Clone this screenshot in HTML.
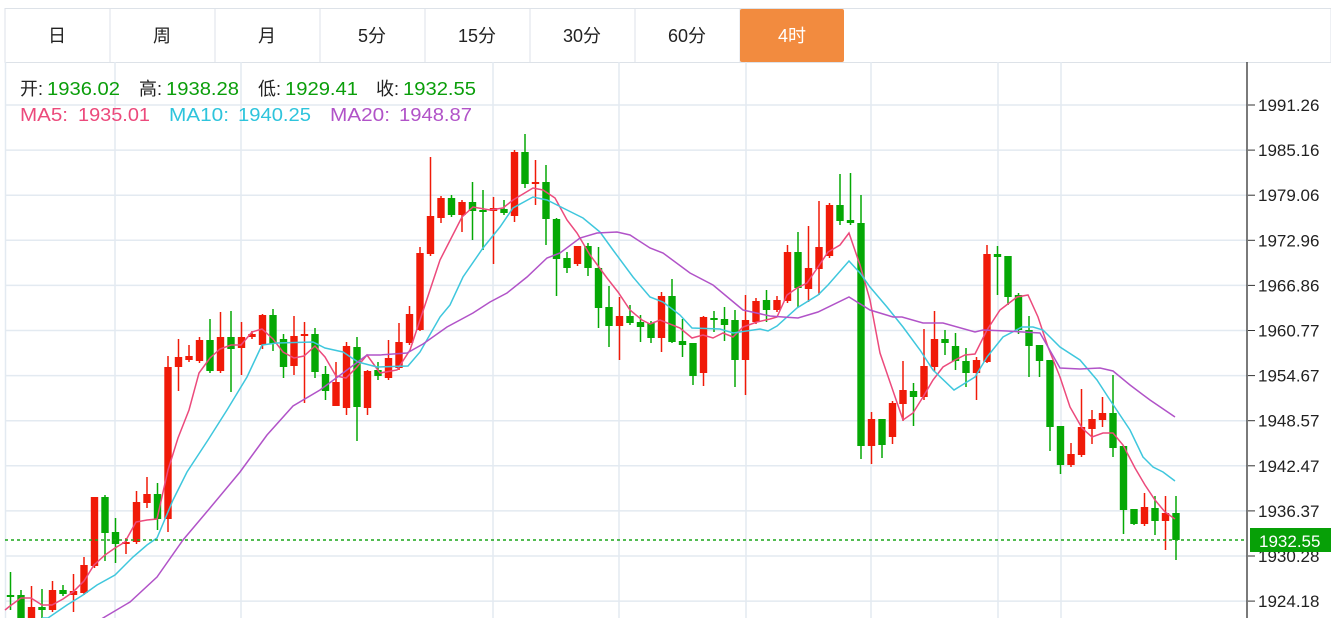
<!DOCTYPE html>
<html><head><meta charset="utf-8"><style>
body{margin:0;background:#fff;width:1331px;height:618px;overflow:hidden;font-family:"Liberation Sans","Noto Sans CJK SC",sans-serif;}
svg{position:absolute;left:0;top:0}
</style></head><body>
<svg id="s" width="1331" height="618" xmlns="http://www.w3.org/2000/svg"></svg>
<script>
const s=document.getElementById('s');let h='';
h+='<rect x="5" y="8.5" width="1326" height="54" fill="#fff" stroke="#dde2e8"/>';
const tabs=['日','周','月','5分','15分','30分','60分','4时'];
tabs.forEach((t,i)=>{const x=5+i*105;
 if(i==7)h+=`<rect x="${x}" y="9" width="104" height="53" rx="2" fill="#f28b3f"/>`;
 else h+=`<line x1="${x+105}" y1="9" x2="${x+105}" y2="62" stroke="#dde2e8"/>`;
 h+=`<text x="${x+52}" y="42" font-size="18" text-anchor="middle" fill="${i==7?'#fff':'#222'}">${t}</text>`;});
[115,241,493,619,746,871,998,1061].forEach(x=>h+=`<line x1="${x}" y1="62" x2="${x}" y2="618" stroke="#e3eaf1" stroke-width="1.5"/>`);
h+='<line x1="5.5" y1="62" x2="5.5" y2="618" stroke="#e3eaf1" stroke-width="1.5"/>';
const lab=['1991.26','1985.16','1979.06','1972.96','1966.86','1960.77','1954.67','1948.57','1942.47','1936.37','1930.28','1924.18'];
lab.forEach((l,i)=>{const y=105+i*45.1;
 h+=`<line x1="5" y1="${y}" x2="1247" y2="${y}" stroke="#e3eaf1" stroke-width="1.5"/>`;
 h+=`<line x1="1248" y1="${y}" x2="1255" y2="${y}" stroke="#333"/>`;
 h+=`<text x="1258" y="${y+6}" font-size="17" fill="#222">${l}</text>`;});
h+='<line x1="1247" y1="62" x2="1247" y2="618" stroke="#222" stroke-width="1.2"/>';
const C=[[595,597,572,610,'g'],[595,618,590,618,'g'],[607,618,586,618,'r'],[607,610,589,618,'g'],[590,610,581,612,'r'],[590,594,585,596,'g'],[591,595,574,612,'r'],[565,593,557,595,'r'],[497,566,497,568,'r'],[497,533,495,561,'g'],[532,544,518,563,'g'],[542,544,538,554,'r'],[502,542,491,544,'r'],[494,503,477,508,'r'],[494,519,483,530,'g'],[367,519,356,532,'r'],[357,367,339,391,'r'],[356,360,345,362,'r'],[340,361,337,363,'r'],[340,371,319,373,'g'],[337,371,312,373,'r'],[337,349,311,392,'g'],[337,348,322,375,'r'],[334,337,331,339,'r'],[315,345,314,349,'r'],[315,344,309,351,'g'],[339,367,334,378,'g'],[336,366,316,375,'r'],[334,336,322,403,'r'],[334,372,328,378,'g'],[374,391,366,400,'g'],[382,406,362,402,'r'],[346,408,342,415,'r'],[347,407,337,441,'g'],[371,408,370,415,'r'],[370,376,362,380,'g'],[358,378,340,380,'r'],[342,368,323,370,'r'],[314,343,306,345,'r'],[253,330,247,331,'r'],[216,254,157,256,'r'],[198,218,196,223,'r'],[198,215,195,217,'g'],[202,215,200,232,'r'],[202,211,182,240,'g'],[210,212,190,250,'g'],[208,211,197,264,'r'],[209,213,200,215,'g'],[152,216,150,222,'r'],[152,184,134,188,'g'],[182,184,160,205,'r'],[182,219,165,245,'g'],[219,259,218,296,'g'],[258,268,252,273,'g'],[246,264,246,266,'r'],[246,268,243,276,'g'],[268,308,247,328,'g'],[307,326,286,347,'g'],[316,326,297,360,'r'],[316,323,305,325,'g'],[322,327,315,342,'g'],[323,338,321,343,'g'],[296,338,292,352,'r'],[296,342,279,343,'g'],[341,345,319,357,'g'],[343,376,343,385,'g'],[317,373,316,386,'r'],[318,320,311,332,'g'],[319,325,307,341,'g'],[320,360,310,387,'g'],[320,360,295,395,'r'],[301,322,298,324,'r'],[300,310,290,322,'g'],[300,310,296,312,'r'],[252,301,245,303,'r'],[252,288,232,307,'g'],[268,289,226,302,'r'],[247,269,201,295,'r'],[205,256,203,258,'r'],[205,221,174,225,'g'],[220,223,173,225,'g'],[223,446,195,459,'g'],[419,446,412,464,'r'],[419,445,419,458,'g'],[403,437,401,444,'r'],[390,404,361,421,'r'],[391,397,383,426,'g'],[366,397,329,400,'r'],[339,367,311,372,'r'],[339,343,330,355,'g'],[346,361,333,370,'g'],[361,373,348,387,'g'],[360,373,357,400,'r'],[254,362,245,363,'r'],[254,257,246,295,'g'],[256,297,257,305,'g'],[295,330,293,334,'g'],[330,346,316,377,'g'],[345,361,345,377,'g'],[360,427,360,451,'g'],[426,465,426,474,'g'],[454,465,443,467,'r'],[427,455,389,457,'r'],[419,429,410,444,'r'],[413,420,397,427,'r'],[413,448,375,457,'g'],[446,510,446,534,'g'],[509,524,509,525,'g'],[507,524,493,526,'r'],[508,521,496,535,'g'],[513,521,496,550,'r'],[513,540,496,560,'g']];
C.forEach((c,i)=>{const x=10.5+i*10.5;const col=c[4]=='r'?'#f01a08':'#05a805';
 h+=`<line x1="${x}" y1="${c[2]}" x2="${x}" y2="${c[3]}" stroke="${col}" stroke-width="1.5"/>`;
 h+=`<rect x="${x-3.7}" y="${c[0]}" width="7.4" height="${Math.max(2,c[1]-c[0])}" fill="${col}"/>`;});
const pl=(p,c)=>h+=`<polyline points="${p}" fill="none" stroke="${c}" stroke-width="1.5"/>`;
pl("5,610 10,606 21,598 31,598 42,605 52,605 63,599 73,592 84,581 94,565 105,555 115,548 125,542 136,522 147,520 157,519 168,470 178,438 189,410 199,373 210,358 220,349 231,345 241,345 252,332 262,329 273,339 283,352 294,358 304,356 315,346 325,357 336,376 346,378 357,367 367,355 380,373 397,370 410,350 430,290 440,260 462,217 473,207 490,210 503,208 513,200 533,188 543,190 555,198 567,220 577,233 590,255 607,278 618,292 630,310 642,320 650,324 660,320 680,328 692,338 703,335 713,338 723,333 733,337 743,327 757,322 770,319 777,317 787,295 797,288 807,283 818,267 828,252 840,245 849,233 860,265 870,300 880,353 903,420 913,413 923,397 933,380 943,367 955,360 965,355 975,354 987,330 1000,310 1017,297 1028,295 1038,317 1048,347 1060,377 1070,407 1082,428 1092,437 1103,433 1113,433 1123,445 1135,468 1145,485 1155,500 1165,512 1175,519","#ec4a7c");
pl("42,618 48,618 67,605 83,595 97,585 115,575 133,557 147,545 157,538 173,500 187,472 208,440 227,410 247,377 262,345 277,343 313,342 325,348 343,352 358,362 377,367 408,366 420,352 440,317 450,305 463,277 483,248 500,227 513,208 533,197 547,200 567,210 583,218 600,232 613,250 633,277 650,297 663,302 680,315 692,328 720,329 733,333 760,329 768,331 777,326 797,308 818,295 828,285 849,261 860,273 870,287 887,307 903,327 920,350 933,370 954,390 975,377 987,357 1003,337 1022,327 1033,327 1043,330 1060,347 1080,360 1097,380 1110,400 1130,430 1143,457 1153,467 1163,472 1175,481","#3fc7dd");
pl("100,620 103,618 130,602 157,577 183,540 210,508 240,472 267,435 293,406 320,390 347,370 367,355 380,355 407,353 423,344 447,327 473,313 490,302 507,293 527,277 547,258 560,253 580,238 597,233 617,232 630,235 650,248 663,253 690,273 713,285 743,310 770,316 783,317 798,318 818,312 849,297 870,310 893,317 902,317 923,323 943,323 975,332 983,330 1007,331 1023,332 1040,333 1060,368 1080,369 1100,368 1113,371 1130,385 1150,400 1175,417","#b153c8");
h+='<line x1="5" y1="540" x2="1247" y2="540" stroke="#1aa51a" stroke-width="1.5" stroke-dasharray="3,3"/>';
h+='<rect x="1250" y="528" width="81" height="24" fill="#07a007"/><text x="1259" y="547" font-size="17" fill="#fff">1932.55</text>';
const G='#0a9e0a';
const T=(x,y,t,c,w)=>h+=`<text x="${x}" y="${y}" font-size="18" fill="${c}"${w?` textLength="${w}" lengthAdjust="spacingAndGlyphs"`:''}>${t}</text>`;
T(20,95,'开:','#222');T(47,95,'1936.02',G,73);
T(139,95,'高:','#222');T(166,95,'1938.28',G,73);
T(258,95,'低:','#222');T(285,95,'1929.41',G,73);
T(376,95,'收:','#222');T(403,95,'1932.55',G,73);
T(20,121,'MA5:','#ec4a7c',48);T(78,121,'1935.01','#ec4a7c',72);
T(169,121,'MA10:','#2ec4dc',60);T(238,121,'1940.25','#2ec4dc',73);
T(330,121,'MA20:','#b153c8',60);T(399,121,'1948.87','#b153c8',73);
s.innerHTML=h;
</script>
</body></html>
